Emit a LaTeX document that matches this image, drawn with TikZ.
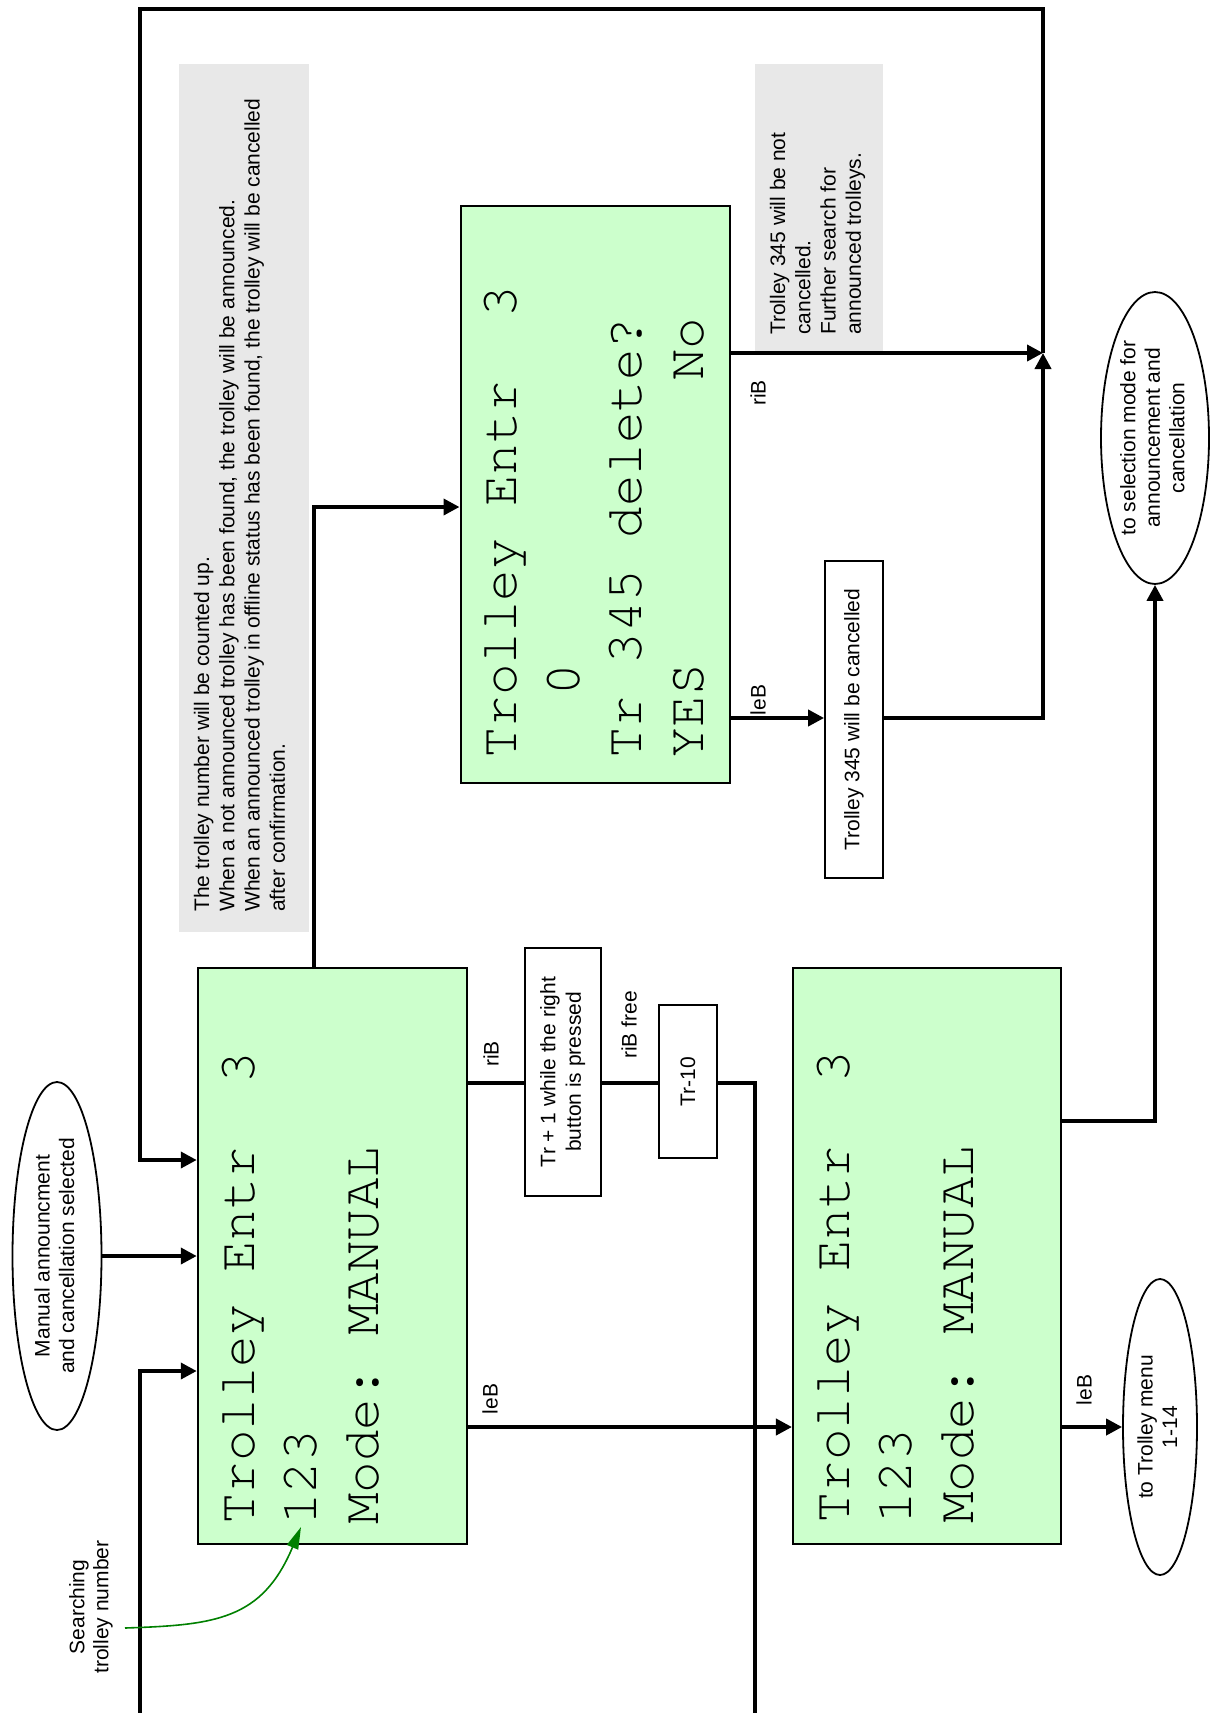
\documentclass[tikz,border=0pt]{standalone}
\usepackage{fontspec}
\usepackage{graphicx}
\setmainfont{Liberation Sans}
\IfFontExistsTF{TeX Gyre Cursor}{\newfontfamily\lcdfont{TeX Gyre Cursor}}{\newfontfamily\lcdfont{Liberation Mono}}
\usetikzlibrary{arrows.meta,shapes.geometric}
\definecolor{lcdgreen}{HTML}{CCFFCC}
\definecolor{notegray}{HTML}{E8E8E8}
\definecolor{pointgreen}{HTML}{008000}
\tikzset{
 lcdbox/.style={draw, line width=2pt, fill=lcdgreen, inner sep=0pt},
 lcdline/.style={font=\lcdfont\fontsize{52.5}{62}\selectfont, rotate=90, anchor=base west, inner sep=0pt},
 notebox/.style={fill=notegray, inner sep=0pt},
 notetxt/.style={font=\fontsize{21}{25.3}\selectfont, rotate=90, anchor=base west, inner sep=0pt},
 actbox/.style={draw, line width=1.8pt, fill=white, inner sep=0pt, font=\fontsize{21}{25.5}\selectfont},
 term/.style={ellipse, draw, line width=1.8pt, inner sep=0pt, font=\fontsize{21}{24.5}\selectfont},
 lbl/.style={font=\fontsize{21}{25}\selectfont, rotate=90, inner sep=0pt},
 conn/.style={line width=3.8pt},
 arr/.style={-{Triangle[length=16pt,width=16pt]}},
}
\frenchspacing
\begin{document}
\begin{tikzpicture}[x=1pt,y=-1pt]
\useasboundingbox (0,0) rectangle (1210,1713);

% notes
\node[notebox, minimum width=130pt, minimum height=868pt] (n1) at (244,498) {};
\node[notetxt] (n1t) at (209,912) {\begin{tabular}[t]{@{}l@{}}The trolley number will be counted up.\\When a not announced trolley has been found, the trolley will be announced.\\When an announced trolley in offline status has been found, the trolley will be cancelled\\after confirmation.\end{tabular}};
\node[notebox, minimum width=128pt, minimum height=288pt] (n2) at (819,208) {};
\node[notetxt] (n2t) at (785,335) {\begin{tabular}[t]{@{}l@{}}Trolley 345 will be not\\cancelled.\\Further search for\\announced trolleys.\end{tabular}};

% LCD boxes
\node[lcdbox, minimum width=269.5pt, minimum height=576pt] (b1) at (332.5,1256) {};
\node[lcdline] (b1a) at (254,1525) {Trolley~Entr~~3};
\node[lcdline] (b1b) at (316,1525) {123};
\node[lcdline] (b1c) at (378,1525) {Mode:~MANUAL};

\node[lcdbox, minimum width=268.5pt, minimum height=576pt] (b2) at (927.2,1256) {};
\node[lcdline] (b2a) at (849,1524) {Trolley~Entr~~3};
\node[lcdline] (b2b) at (911,1524) {123};
\node[lcdline] (b2c) at (973,1524) {Mode:~MANUAL};

\node[lcdbox, minimum width=269pt, minimum height=577pt] (b3) at (595,494.5) {};
\node[lcdline] (b3a) at (516,759) {Trolley~Entr~~3};
\node[lcdline] (b3b) at (579,759) {~~0};
\node[lcdline] (b3c) at (641,759) {Tr~345~delete?};
\node[lcdline] (b3d) at (703,759) {YES~~~~~~~~~No};

% action boxes
\node[actbox, minimum width=76pt, minimum height=248pt] (tp) at (563,1072) {\rotatebox{90}{\begin{tabular}{@{}c@{}}Tr + 1 while the right\\button is pressed\end{tabular}}};
\node[actbox, minimum width=58pt, minimum height=153pt] (tm) at (688,1081.5) {\rotatebox{90}{Tr-10}};
\node[actbox, minimum width=58pt, minimum height=317pt] (cb) at (854,719.5) {\rotatebox{90}{Trolley 345 will be cancelled}};

% terminals
\node[term, minimum width=89pt, minimum height=348pt] (em) at (57,1256) {\rotatebox{90}{\begin{tabular}{@{}c@{}}Manual announcment\\and cancellation selected\end{tabular}}};
\node[term, minimum width=74pt, minimum height=296pt] (et) at (1160,1427) {\rotatebox{90}{\begin{tabular}{@{}c@{}}to Trolley menu\\1-14\end{tabular}}};
\node[term, minimum width=108pt, minimum height=292pt] (es) at (1155,438) {\rotatebox{90}{\begin{tabular}{@{}c@{}}to selection mode for\\announcement and\\cancellation\end{tabular}}};

% labels
\node[lbl] (l1) at (491,1054) {riB};
\node[lbl] (l2) at (490,1399) {leB};
\node[lbl] (l3) at (629,1025) {riB free};
\node[lbl] (l4) at (1084,1390) {leB};
\node[lbl] (l5) at (758,700) {leB};
\node[lbl] (l6) at (758,393) {riB};
\node[font=\fontsize{21}{24}\selectfont, rotate=90, align=center, inner sep=0pt] (srch) at (91,1607) {Searching\\trolley number};

% coordinates
\coordinate (jn) at (1043,353);
\coordinate (tr) at (1043,9);
\coordinate (tl) at (140,9);
\coordinate (l1in) at (140,1160);
\coordinate (bl) at (140,1713);
\coordinate (l2in) at (140,1371);
\coordinate (rbus) at (755,1083);
\coordinate (rbot) at (755,1713);
\coordinate (lbus) at (0,1427);
\coordinate (up) at (314,507);
\coordinate (ybus) at (0,718);
\coordinate (nbus) at (0,353);
\coordinate (sel) at (1155,1121);
\coordinate (gs) at (125,1628);
\coordinate (gt) at (301,1527);

% connectors
\draw[conn,arr] (em.east) -- (em.east -| b1.west);
\draw[conn,arr] (jn) -- (tr) -- (tl) -- (l1in) -- (l1in -| b1.west);
\draw[conn,arr] (bl) -- (l2in) -- (l2in -| b1.west);
\draw[conn] (rbus -| b1.east) -- (rbus -| tp.west);
\draw[conn] (rbus -| tp.east) -- (rbus -| tm.west);
\draw[conn] (rbus -| tm.east) -- (rbus) -- (rbot);
\draw[conn,arr] (lbus -| b1.east) -- (lbus -| b2.west);
\draw[conn,arr] (lbus -| b2.east) -- (et.west);
\draw[conn,arr] (sel -| b2.east) -- (sel) -- (es.south);
\draw[conn,arr] (up |- b1.north) -- (up) -- (up -| b3.west);
\draw[conn,arr] (ybus -| b3.east) -- (ybus -| cb.west);
\draw[conn,arr] (ybus -| cb.east) -- (jn |- ybus) -- (jn);
\draw[conn,arr] (nbus -| b3.east) -- (jn);
\draw[pointgreen, line width=1.6pt, -{Triangle[length=22pt,width=12pt]}] (gs) .. controls (215,1625) and (262,1620) .. (gt);
\end{tikzpicture}
\end{document}
